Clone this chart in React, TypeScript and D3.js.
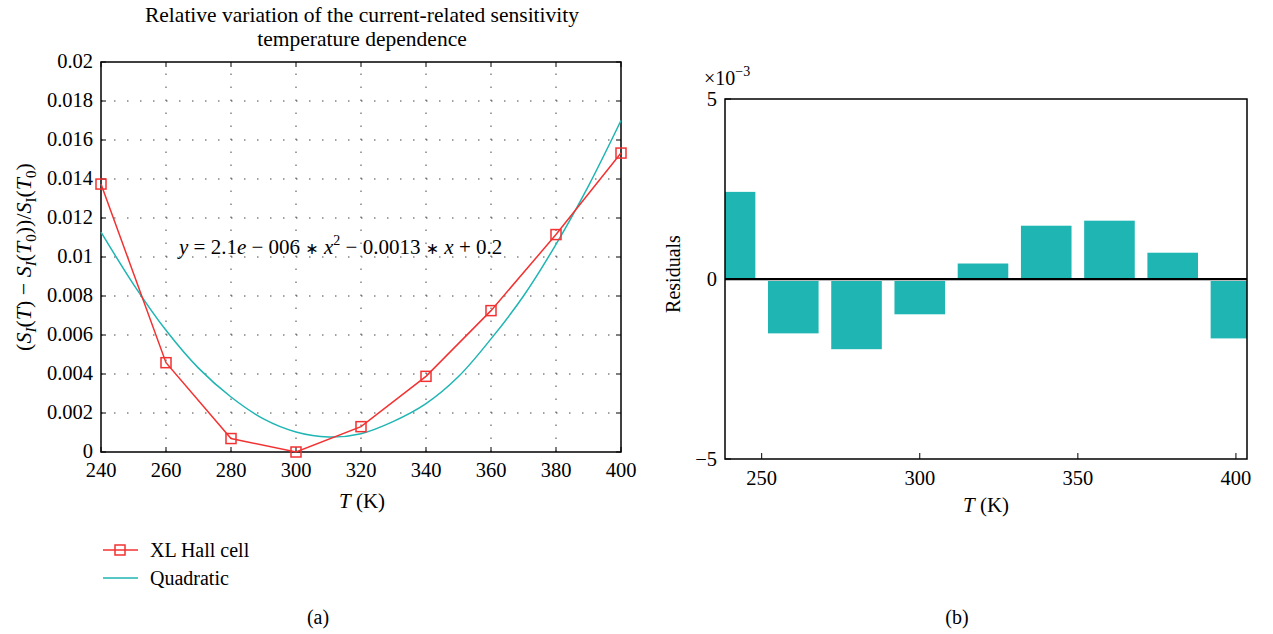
import * as d3 from "d3";

// left panel: relative variation of sensitivity
const temps = [240, 260, 280, 300, 320, 340, 360, 380, 400];
const hallCell = [0.01374, 0.00458, 0.00069, 0.0, 0.0013, 0.00388, 0.00725, 0.01115, 0.01533];
const fitTemps = [240, 250, 260, 270, 280, 290, 300, 310, 320, 330, 340, 350, 360, 370, 380, 390, 400];
const fitValues = [
  0.01128, 0.0086, 0.00624, 0.0043, 0.00282, 0.0017, 0.00103, 0.00077, 0.00094, 0.00157, 0.00248, 0.00387,
  0.0058, 0.008, 0.01065, 0.01365, 0.017,
];
const leftXTicks = [240, 260, 280, 300, 320, 340, 360, 380, 400];
const leftYTicks = [0, 0.002, 0.004, 0.006, 0.008, 0.01, 0.012, 0.014, 0.016, 0.018, 0.02];

// right panel: residuals (x 10^-3)
const residuals = [2.42, -1.51, -1.95, -0.98, 0.43, 1.48, 1.62, 0.73, -1.65];
const rightXTicks = [250, 300, 350, 400];
const rightYTicks = [-5, 0, 5];

const FONT = "'Liberation Serif', 'Times New Roman', serif";
const RED = "#f23232";
const TEAL = "#1fb5b3";
const GRID = "#444";

export default function App() {
  const x = d3.scaleLinear().domain([240, 400]).range([101, 621]);
  const y = d3.scaleLinear().domain([0, 0.02]).range([452, 62]);
  const xr = d3.scaleLinear().domain([238.4, 403.5]).range([725, 1247]);
  const yr = d3.scaleLinear().domain([-5, 5]).range([459, 99]);

  const hallLine = d3
    .line<number>()
    .x((_, i) => x(temps[i]))
    .y((d) => y(d));
  const fitLine = d3
    .line<number>()
    .x((_, i) => x(fitTemps[i]))
    .y((d) => y(d))
    .curve(d3.curveCatmullRom);

  const [l, r] = x.range();
  const [b, t] = y.range();
  const [rl, rrt] = xr.range();
  const [rb, rt] = yr.range();
  const barW = xr(256) - xr(240);
  const fmt = (v: number) => String(+v.toFixed(3));
  const ms = 10;

  return (
    <svg width={1273} height={634} style={{ position: "absolute", left: 0, top: 0, background: "#fff" }} fontFamily={FONT}>
      {/* ---------- left panel ---------- */}
      <text x={362} y={22} textAnchor="middle" fontSize={21.5}>
        Relative variation of the current-related sensitivity
      </text>
      <text x={362} y={46} textAnchor="middle" fontSize={21.5}>
        temperature dependence
      </text>

      {/* grid */}
      {leftXTicks.slice(1, -1).map((d) => (
        <line key={"gx" + d} x1={x(d)} x2={x(d)} y1={b} y2={t} stroke={GRID} strokeDasharray="1.5 11.5" />
      ))}
      {leftYTicks.slice(1, -1).map((d) => (
        <line key={"gy" + d} x1={l} x2={r} y1={y(d)} y2={y(d)} stroke={GRID} strokeDasharray="1.5 11.5" />
      ))}

      {/* ticks */}
      {leftXTicks.map((d) => (
        <g key={"tx" + d}>
          <line x1={x(d)} x2={x(d)} y1={b} y2={b - 5} stroke="#000" />
          <line x1={x(d)} x2={x(d)} y1={t} y2={t + 5} stroke="#000" />
          <text x={x(d)} y={b + 25} textAnchor="middle" fontSize={20.5}>
            {d}
          </text>
        </g>
      ))}
      {leftYTicks.map((d) => (
        <g key={"ty" + d}>
          <line x1={l} x2={l + 5} y1={y(d)} y2={y(d)} stroke="#000" />
          <line x1={r} x2={r - 5} y1={y(d)} y2={y(d)} stroke="#000" />
          <text x={l - 8} y={y(d) + 6} textAnchor="end" fontSize={20.5}>
            {fmt(d)}
          </text>
        </g>
      ))}

      <rect x={l} y={t} width={r - l} height={b - t} fill="none" stroke="#000" strokeWidth={1.5} />

      {/* series */}
      <path d={fitLine(fitValues) ?? ""} fill="none" stroke={TEAL} strokeWidth={1.5} />
      <path d={hallLine(hallCell) ?? ""} fill="none" stroke={RED} strokeWidth={1.5} />
      {hallCell.map((d, i) => (
        <rect
          key={"m" + i}
          x={x(temps[i]) - ms / 2}
          y={y(d) - ms / 2}
          width={ms}
          height={ms}
          fill="none"
          stroke={RED}
          strokeWidth={1.5}
        />
      ))}

      {/* equation */}
      <text x={179} y={254} fontSize={21}>
        <tspan fontStyle="italic">y</tspan>
        <tspan> = 2.1</tspan>
        <tspan fontStyle="italic">e</tspan>
        <tspan> − 006 </tspan>
        <tspan fontFamily="'DejaVu Sans'" fontSize={16}>∗</tspan>
        <tspan> </tspan>
        <tspan fontStyle="italic">x</tspan>
        <tspan dy={-9} fontSize={14}>
          2
        </tspan>
        <tspan dy={9}> − 0.0013 </tspan>
        <tspan fontFamily="'DejaVu Sans'" fontSize={16}>∗</tspan>
        <tspan> </tspan>
        <tspan fontStyle="italic">x</tspan>
        <tspan> + 0.2</tspan>
      </text>

      {/* axis labels */}
      <text x={362} y={508} textAnchor="middle" fontSize={21}>
        <tspan fontStyle="italic">T</tspan> (K)
      </text>
      <text transform="translate(31,257) rotate(-90)" textAnchor="middle" fontSize={22}>
        (<tspan fontStyle="italic">S</tspan>
        <tspan fontStyle="italic" fontSize={15} dy={5}>
          I
        </tspan>
        <tspan dy={-5}>(</tspan>
        <tspan fontStyle="italic">T</tspan>) − <tspan fontStyle="italic">S</tspan>
        <tspan fontStyle="italic" fontSize={15} dy={5}>
          I
        </tspan>
        <tspan dy={-5}>(</tspan>
        <tspan fontStyle="italic">T</tspan>
        <tspan fontSize={15} dy={5}>
          0
        </tspan>
        <tspan dy={-5}>))/</tspan>
        <tspan fontStyle="italic">S</tspan>
        <tspan fontSize={15} dy={5}>
          I
        </tspan>
        <tspan dy={-5}>(</tspan>
        <tspan fontStyle="italic">T</tspan>
        <tspan fontSize={15} dy={5}>
          0
        </tspan>
        <tspan dy={-5}>)</tspan>
      </text>

      {/* legend */}
      <line x1={103} x2={138} y1={550} y2={550} stroke={RED} strokeWidth={1.5} />
      <rect x={115} y={545} width={ms} height={ms} fill="none" stroke={RED} strokeWidth={1.5} />
      <text x={150} y={557} fontSize={20}>
        XL Hall cell
      </text>
      <line x1={103} x2={138} y1={578} y2={578} stroke={TEAL} strokeWidth={1.5} />
      <text x={150} y={585} fontSize={20}>
        Quadratic
      </text>
      <text x={318} y={624} textAnchor="middle" fontSize={20}>
        (a)
      </text>

      {/* ---------- right panel ---------- */}
      <defs>
        <clipPath id="rclip">
          <rect x={rl} y={rt} width={rrt - rl} height={rb - rt} />
        </clipPath>
      </defs>
      <g clipPath="url(#rclip)">
        {residuals.map((d, i) => (
          <rect
            key={"bar" + i}
            x={xr(temps[i]) - barW / 2}
            y={yr(Math.max(0, d))}
            width={barW}
            height={Math.abs(yr(d) - yr(0))}
            fill={TEAL}
          />
        ))}
      </g>
      <line x1={rl} x2={rrt} y1={yr(0) + 1.5} y2={yr(0) + 1.5} stroke="#bbb" strokeWidth={1} />
      <line x1={rl} x2={rrt} y1={yr(0)} y2={yr(0)} stroke="#000" strokeWidth={2} />
      <rect x={rl} y={rt} width={rrt - rl} height={rb - rt} fill="none" stroke="#000" strokeWidth={1.5} />

      {rightXTicks.map((d) => (
        <g key={"rtx" + d}>
          <line x1={xr(d)} x2={xr(d)} y1={rb} y2={rb - 6} stroke="#000" />
          <text x={xr(d)} y={rb + 26} textAnchor="middle" fontSize={20.5}>
            {d}
          </text>
        </g>
      ))}
      {rightYTicks.map((d) => (
        <g key={"rty" + d}>
          <line x1={rl} x2={rl + 6} y1={yr(d)} y2={yr(d)} stroke="#000" />
          <text x={rl - 8} y={yr(d) + 7} textAnchor="end" fontSize={20.5}>
            {d < 0 ? "−" + Math.abs(d) : d}
          </text>
        </g>
      ))}
      <text x={704} y={85} fontSize={20}>
        ×10
        <tspan dy={-9} fontSize={14}>
          −3
        </tspan>
      </text>
      <text transform="translate(680,274) rotate(-90)" textAnchor="middle" fontSize={20}>
        Residuals
      </text>
      <text x={986} y={512} textAnchor="middle" fontSize={21}>
        <tspan fontStyle="italic">T</tspan> (K)
      </text>
      <text x={957} y={624} textAnchor="middle" fontSize={20}>
        (b)
      </text>
    </svg>
  );
}
